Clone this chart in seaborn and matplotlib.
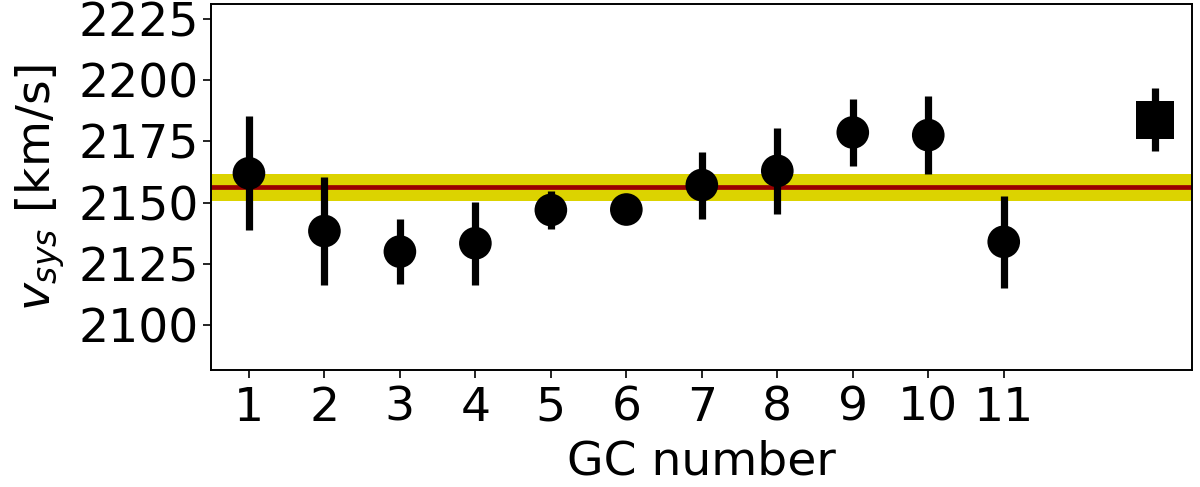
import numpy as np
import pandas as pd
import matplotlib
matplotlib.use("Agg")
import matplotlib.pyplot as plt
import seaborn as sns

# GC velocities
gc_number = [1, 2, 3, 4, 5, 6, 7, 8, 9, 10, 11]
v_sys = [2162.0, 2138.4, 2130.0, 2133.4, 2147.0, 2147.2, 2157.2, 2163.0, 2178.7, 2177.6, 2134.0]
v_err = [23.3, 21.9, 13.3, 17.0, 7.7, 5.0, 13.7, 17.7, 13.6, 16.0, 18.9]

# combined value (square) and the mean band
combined_x = [13]
combined_v = [2183.9]
combined_err = [12.9]
mean_v = 2156.3
mean_err = 5.6

sns.set_style("ticks")
plt.rcParams["font.family"] = ["DejaVu Sans"]
plt.rcParams["mathtext.fontset"] = "dejavusans"
plt.rcParams["text.color"] = "black"
plt.rcParams["axes.labelcolor"] = "black"
plt.rcParams["xtick.color"] = "black"
plt.rcParams["ytick.color"] = "black"

df = pd.DataFrame({"gc": gc_number, "v": v_sys, "err": v_err})

fig, ax = plt.subplots(figsize=(12, 4.87), dpi=100)
fig.subplots_adjust(left=0.176, right=0.9937, top=0.9918, bottom=0.2402)

ax.axhspan(mean_v - mean_err, mean_v + mean_err, color="#DCD300", lw=0, zorder=1)
ax.axhline(mean_v, color="#990000", lw=3.4, zorder=2)

ax.errorbar(df["gc"], df["v"], yerr=df["err"], fmt="none", ecolor="black",
            elinewidth=5.2, capsize=0, zorder=3)
sns.scatterplot(data=df, x="gc", y="v", ax=ax, color="black", s=23.5**2,
                marker="o", edgecolor="none", zorder=4, legend=False)

ax.errorbar(combined_x, combined_v, yerr=combined_err, fmt="none", ecolor="black",
            elinewidth=5.2, capsize=0, zorder=3)
sns.scatterplot(x=combined_x, y=combined_v, ax=ax, color="black", s=27.5**2,
                marker="s", edgecolor="none", zorder=4, legend=False)

ax.set_xlim(0.5, 13.5)
ax.set_ylim(2081.6, 2231.2)
ax.set_xticks(gc_number)
ax.set_xticklabels([str(g) for g in gc_number])
ax.set_yticks([2100, 2125, 2150, 2175, 2200, 2225])

ax.tick_params(axis="both", labelsize=34, length=5.5, width=1.2, color="black",
               labelcolor="black")
ax.tick_params(axis="x", pad=6)
ax.set_xlabel("GC number", fontsize=34, labelpad=6, color="black")
ax.set_ylabel(r"$v_{sys}$ [km/s]", fontsize=34, labelpad=8, color="black")
for sp in ax.spines.values():
    sp.set_linewidth(1.4)
    sp.set_color("black")

fig.savefig("out.png", dpi=100)
